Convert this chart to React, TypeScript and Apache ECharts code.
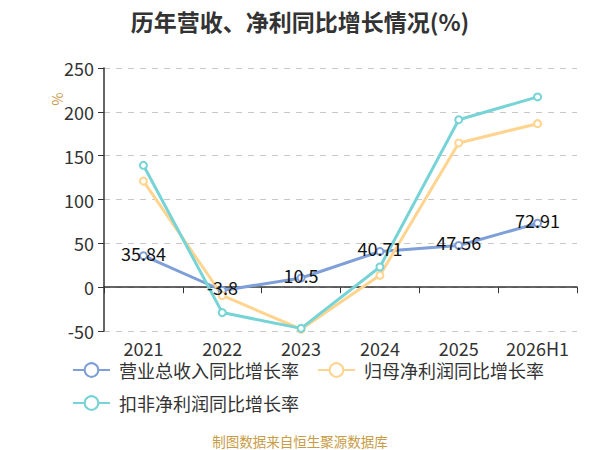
import React, { useEffect, useRef } from "react";
import * as echarts from "echarts";

const categories = ["2021", "2022", "2023", "2024", "2025", "2026H1"];
const revenueGrowth = [35.84, -3.8, 10.5, 40.71, 47.56, 72.91];
const netProfitGrowth = [121, -9.5, -48, 13.5, 164.5, 186.5];
const deductedProfitGrowth = [139, -29, -47, 23, 191, 217];
const seriesNames = ["营业总收入同比增长率", "归母净利润同比增长率", "扣非净利润同比增长率"];
const yTicks = { min: -50, max: 250, interval: 50 };

const FONT = "'Noto Sans CJK SC', 'Noto Sans', sans-serif";
const colors = ["#7e9fd8", "#ffd48f", "#76d3d6"];

export default function App() {
  const ref = useRef<HTMLDivElement>(null);
  useEffect(() => {
    if (!ref.current) return;
    const chart = echarts.init(ref.current, undefined, { renderer: "svg" });
    const mk = (name: string, data: number[], color: string, label: boolean) => ({
      name,
      type: "line",
      xAxisIndex: 0,
      data,
      symbol: "emptyCircle",
      symbolSize: 7,
      lineStyle: { color, width: 3 },
      itemStyle: { color, borderWidth: 1.5 },
      label: label
        ? {
            show: true,
            position: "inside",
            offset: [0, -3],
            color: "#111",
            fontSize: 18,
            fontFamily: FONT,
          }
        : { show: false },
    });
    chart.setOption({
      animation: false,
      textStyle: { fontFamily: FONT },
      title: {
        text: "历年营收、净利同比增长情况(%)",
        left: "center",
        top: 4,
        textStyle: { fontSize: 23, fontWeight: "bold", color: "#333", fontFamily: FONT },
      },
      legend: {
        left: 67,
        top: 356,
        width: 520,
        itemWidth: 37,
        itemHeight: 17,
        itemGap: 15,
        textStyle: {
          fontSize: 18,
          lineHeight: 17,
          color: "#333",
          fontFamily: FONT,
          padding: [0, 3, 0, 4],
        },
        data: seriesNames,
      },
      grid: { left: 104, right: 23, top: 68, bottom: 119 },
      xAxis: [
        {
          type: "category",
          data: categories,
          boundaryGap: true,
          axisLine: { onZero: true, lineStyle: { color: "#333", width: 1.5 } },
          axisTick: { show: true, length: 6, lineStyle: { color: "#333" } },
          axisLabel: { show: false },
        },
        {
          type: "category",
          data: categories,
          position: "bottom",
          boundaryGap: true,
          axisLine: { show: false, onZero: false },
          axisTick: { show: false },
          axisLabel: {
            interval: 0,
            fontSize: 18,
            lineHeight: 16,
            color: "#333",
            margin: 9,
            fontFamily: FONT,
          },
        },
      ],
      yAxis: {
        type: "value",
        min: yTicks.min,
        max: yTicks.max,
        interval: yTicks.interval,
        axisLine: { show: true, lineStyle: { color: "#333", width: 1.5 } },
        axisTick: { show: true, length: 6, lineStyle: { color: "#333" } },
        axisLabel: { fontSize: 18, color: "#333", margin: 10, fontFamily: FONT },
        splitLine: { lineStyle: { type: [6, 6], color: "#c8c8c8" } },
      },
      graphic: [
        {
          type: "text",
          x: 57,
          y: 99,
          rotation: Math.PI / 2,
          style: {
            text: "%",
            fill: "#c9974a",
            fontSize: 14,
            fontFamily: FONT,
            align: "center",
            verticalAlign: "middle",
          },
        },
        {
          type: "text",
          x: 300,
          y: 441,
          style: {
            text: "制图数据来自恒生聚源数据库",
            fill: "#c89b45",
            fontSize: 13.5,
            fontFamily: FONT,
            align: "center",
            verticalAlign: "middle",
          },
        },
      ],
      series: [
        mk(seriesNames[0], revenueGrowth, colors[0], true),
        mk(seriesNames[1], netProfitGrowth, colors[1], false),
        mk(seriesNames[2], deductedProfitGrowth, colors[2], false),
      ],
    });
    return () => chart.dispose();
  }, []);
  return (
    <div
      ref={ref}
      style={{ position: "absolute", left: 0, top: 0, width: 600, height: 450 }}
    />
  );
}
